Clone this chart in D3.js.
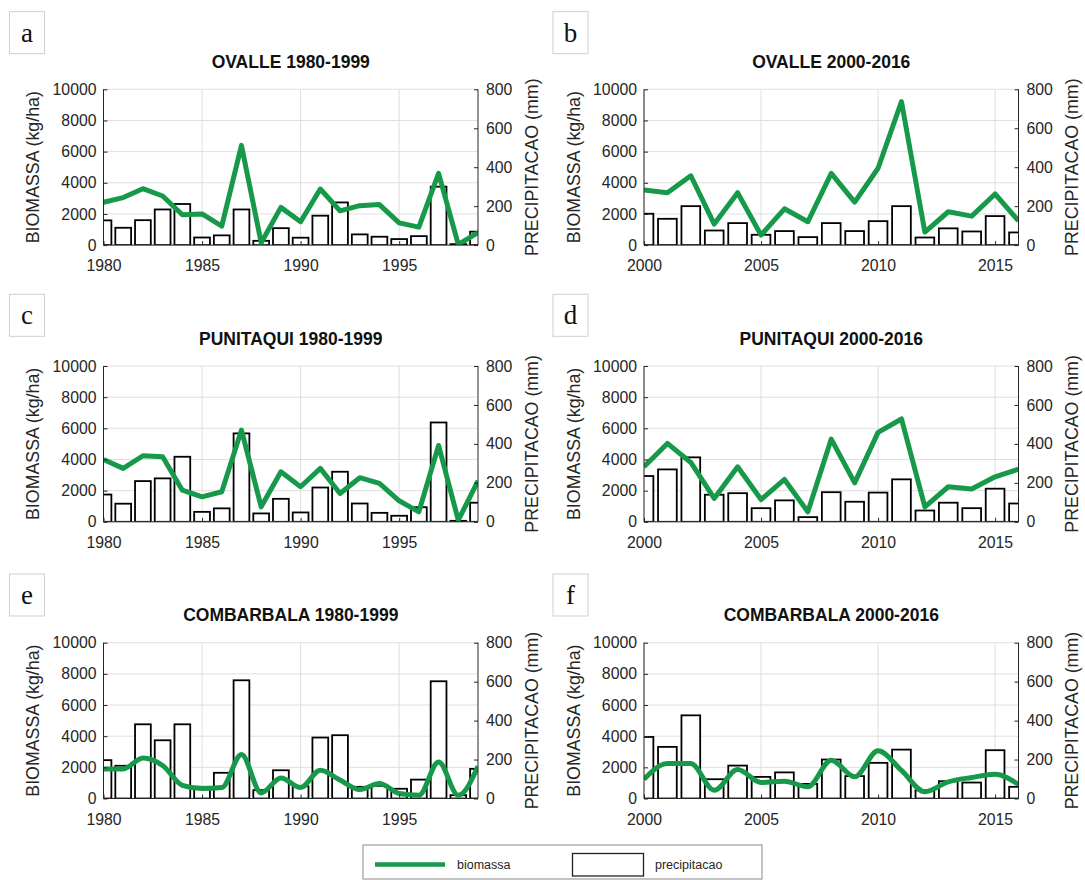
<!DOCTYPE html>
<html>
<head>
<meta charset="utf-8">
<script src="https://cdn.jsdelivr.net/npm/d3@7"></script>
<style>
  html, body { margin: 0; padding: 0; background: #fff; }
  svg { display: block; }
</style>
</head>
<body>
<svg id="chart" width="1085" height="880"></svg>
<script>
// ---------------- DATA ----------------
const years1 = [1980,1981,1982,1983,1984,1985,1986,1987,1988,1989,1990,1991,1992,1993,1994,1995,1996,1997,1998,1999];
const years2 = [2000,2001,2002,2003,2004,2005,2006,2007,2008,2009,2010,2011,2012,2013,2014,2015,2016];
const xTicks1 = [1980,1985,1990,1995];
const xTicks2 = [2000,2005,2010,2015];
const leftTicks = [0,2000,4000,6000,8000,10000];
const rightTicks = [0,200,400,600,800];

const ovalleBio1  = [2750,3050,3620,3150,1950,2000,1220,6400,150,2420,1500,3600,2200,2530,2600,1430,1150,4600,50,800];
const ovallePrec1 = [127,89,128,183,211,39,50,183,22,87,38,151,219,55,43,31,46,300,5,69];
const ovalleBio2  = [3530,3360,4450,1350,3360,640,2330,1500,4600,2760,4930,9210,835,2140,1860,3280,1560];
const ovallePrec2 = [161,135,200,75,113,53,72,41,113,72,123,200,39,86,70,149,65];

const punitaquiBio1  = [4000,3430,4240,4180,2030,1600,1930,5890,960,3210,2250,3430,1820,2830,2460,1350,640,4900,100,2630];
const punitaquiPrec1 = [140,93,209,223,334,51,69,454,43,118,48,176,257,94,46,31,75,510,5,98];
const punitaquiBio2  = [3530,5030,3810,1500,3530,1430,2720,640,5310,2500,5740,6600,960,2250,2100,2890,3380];
const punitaquiPrec2 = [235,269,331,139,147,70,110,24,152,103,150,218,58,98,70,170,94];

const combarbalaBio1  = [1900,1900,2600,2120,850,640,700,2820,360,1320,700,1820,1180,580,960,320,210,2350,210,2070];
const combarbalaPrec1 = [197,168,381,299,381,60,132,607,43,145,63,313,325,60,65,50,97,602,17,152];
const combarbalaBio2  = [1240,2240,2240,530,1860,1030,1110,750,2460,1390,3060,1800,430,1070,1350,1560,900];
const combarbalaPrec2 = [316,265,427,99,169,111,134,75,200,115,183,251,42,89,82,248,60];

const panelTitles = ["OVALLE 1980-1999","OVALLE 2000-2016","PUNITAQUI 1980-1999","PUNITAQUI 2000-2016","COMBARBALA 1980-1999","COMBARBALA 2000-2016"];
const panelLetters = ["a","b","c","d","e","f"];
const leftLabel = "BIOMASSA (kg/ha)";
const rightLabel = "PRECIPITACAO (mm)";
const legendLabels = ["biomassa","precipitacao"];

// ---------------- LAYOUT ----------------
const FONT = "'Liberation Sans', Arial, Helvetica, sans-serif";
const GREEN = "#17994a";
const TXT = "#262626";
const colLeft = [103.5, 644];
const rowTop = [89.3, 366, 642.7];
const PW = 374.5, PH = 155.8;
const letterBoxX = [9.5, 553];
const letterBoxY = [11.7, 294.3, 574];

const panels = [
  {years: years1, xticks: xTicks1, bio: ovalleBio1, prec: ovallePrec1, smooth: false},
  {years: years2, xticks: xTicks2, bio: ovalleBio2, prec: ovallePrec2, smooth: false},
  {years: years1, xticks: xTicks1, bio: punitaquiBio1, prec: punitaquiPrec1, smooth: false},
  {years: years2, xticks: xTicks2, bio: punitaquiBio2, prec: punitaquiPrec2, smooth: false},
  {years: years1, xticks: xTicks1, bio: combarbalaBio1, prec: combarbalaPrec1, smooth: true},
  {years: years2, xticks: xTicks2, bio: combarbalaBio2, prec: combarbalaPrec2, smooth: true}
];

const svg = d3.select("#chart");

panels.forEach((p, i) => {
  const col = i % 2, row = Math.floor(i / 2);
  const x0 = colLeft[col], y0 = rowTop[row];
  const g = svg.append("g").attr("transform", `translate(${x0},${y0})`);

  const x = d3.scaleLinear().domain([p.years[0], p.years[p.years.length - 1]]).range([0, PW]);
  const yL = d3.scaleLinear().domain([0, 10000]).range([PH, 0]);
  const yR = d3.scaleLinear().domain([0, 800]).range([PH, 0]);
  const step = x(p.years[1]) - x(p.years[0]);
  const bw = step * 0.8;

  // grid
  g.append("g").selectAll("line.gx").data(p.xticks).join("line")
    .attr("x1", d => x(d)).attr("x2", d => x(d)).attr("y1", 0).attr("y2", PH)
    .attr("stroke", "#dfdfdf").attr("stroke-width", 1);
  g.append("g").selectAll("line.gy").data(leftTicks).join("line")
    .attr("x1", 0).attr("x2", PW).attr("y1", d => yL(d)).attr("y2", d => yL(d))
    .attr("stroke", "#dfdfdf").attr("stroke-width", 1);

  const clipId = "clip" + i;
  g.append("clipPath").attr("id", clipId).append("rect")
    .attr("x", 0).attr("y", -10).attr("width", PW).attr("height", PH + 10);

  const plot = g.append("g").attr("clip-path", `url(#${clipId})`);

  // bars (precipitation, right axis)
  plot.selectAll("rect.bar").data(p.years.map((yr, k) => ({yr, v: p.prec[k]}))).join("rect")
    .attr("x", d => x(d.yr) - bw / 2)
    .attr("width", bw)
    .attr("y", d => yR(d.v))
    .attr("height", d => PH - yR(d.v))
    .attr("fill", "#fff").attr("stroke", "#000").attr("stroke-width", 1.8);

  // biomass line (left axis)
  const line = d3.line()
    .x(d => x(d.yr)).y(d => yL(d.v))
    .curve(p.smooth ? d3.curveMonotoneX : d3.curveLinear);
  plot.append("path").datum(p.years.map((yr, k) => ({yr, v: p.bio[k]})))
    .attr("d", line).attr("fill", "none").attr("stroke", GREEN)
    .attr("stroke-width", 5).attr("stroke-linejoin", "round").attr("stroke-linecap", "butt");

  // axes
  const axL = g.append("g").call(d3.axisLeft(yL).tickValues(leftTicks).tickSize(-4).tickPadding(7).tickFormat(d3.format("d")));
  const axR = g.append("g").attr("transform", `translate(${PW},0)`)
    .call(d3.axisRight(yR).tickValues(rightTicks).tickSize(-4).tickPadding(8).tickFormat(d3.format("d")));
  const axB = g.append("g").attr("transform", `translate(0,${PH})`)
    .call(d3.axisBottom(x).tickValues(p.xticks).tickSize(-4).tickPadding(15).tickFormat(d3.format("d")));
  [axL, axR, axB].forEach(a => {
    a.select(".domain").attr("stroke", TXT).attr("stroke-width", 1);
    a.selectAll(".tick line").attr("stroke", TXT);
    a.selectAll(".tick text").attr("fill", TXT).style("font-family", FONT).style("font-size", "15.8px");
  });
  axL.select(".domain").attr("d", `M0,${PH}V0`);
  axR.select(".domain").attr("d", `M0,${PH}V0`);
  axB.select(".domain").attr("d", `M0,0H${PW}`);

  // title
  g.append("text").attr("x", PW / 2).attr("y", -27.5)
    .attr("text-anchor", "middle").attr("dominant-baseline", "central")
    .style("font-family", FONT).style("font-weight", "bold").style("font-size", "17.5px")
    .attr("fill", "#111").text(panelTitles[i]);

  // axis labels
  g.append("text").attr("transform", `translate(-70.5,${PH / 2}) rotate(-90)`)
    .attr("text-anchor", "middle").attr("dominant-baseline", "central")
    .style("font-family", FONT).style("font-size", "17.8px").attr("fill", TXT).text(leftLabel);
  g.append("text").attr("transform", `translate(${PW + 53.5},${PH / 2}) rotate(-90)`)
    .attr("text-anchor", "middle").attr("dominant-baseline", "central")
    .style("font-family", FONT).style("font-size", "17.8px").attr("fill", TXT).text(rightLabel);

  // letter box
  const lb = svg.append("g").attr("transform", `translate(${letterBoxX[col]},${letterBoxY[row]})`);
  lb.append("rect").attr("width", 35).attr("height", 42)
    .attr("fill", "#fff").attr("stroke", "#cfcfcf").attr("stroke-width", 1);
  lb.append("text").attr("x", 17.5).attr("y", 30)
    .attr("text-anchor", "middle")
    .style("font-family", "'Liberation Serif', 'Times New Roman', serif").style("font-size", "27px")
    .attr("fill", "#111").text(panelLetters[i]);
});

// legend
const lg = svg.append("g");
lg.append("rect").attr("x", 363).attr("y", 845).attr("width", 399).attr("height", 34)
  .attr("fill", "#fff").attr("stroke", "#8a8a8a").attr("stroke-width", 1);
lg.append("line").attr("x1", 375).attr("x2", 445).attr("y1", 864.5).attr("y2", 864.5)
  .attr("stroke", GREEN).attr("stroke-width", 4.5);
lg.append("text").attr("x", 457).attr("y", 865).attr("dominant-baseline", "central")
  .style("font-family", FONT).style("font-size", "12.5px").attr("fill", TXT).text(legendLabels[0]);
lg.append("rect").attr("x", 572.5).attr("y", 853.5).attr("width", 71).attr("height", 22.5)
  .attr("fill", "#fff").attr("stroke", "#222").attr("stroke-width", 1.3);
lg.append("text").attr("x", 655).attr("y", 865).attr("dominant-baseline", "central")
  .style("font-family", FONT).style("font-size", "12.5px").attr("fill", TXT).text(legendLabels[1]);
</script>
</body>
</html>
